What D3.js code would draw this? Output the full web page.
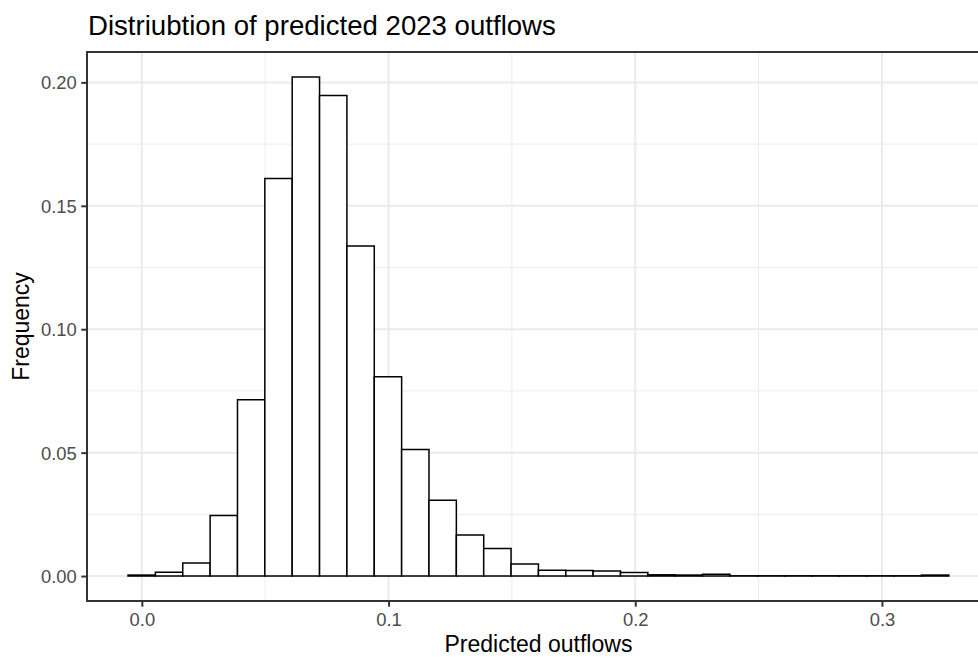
<!DOCTYPE html>
<html>
<head>
<meta charset="utf-8">
<script src="https://cdn.jsdelivr.net/npm/d3@7"></script>
<style>
  html, body { margin: 0; padding: 0; background: #ffffff; }
  svg { display: block; font-family: "Liberation Sans", Arial, Helvetica, sans-serif; }
</style>
</head>
<body>
<svg id="chart" width="978" height="657"></svg>
<script>
// ---- Data ----
const titleText = "Distriubtion of predicted 2023 outflows";
const xTitle = "Predicted outflows";
const yTitle = "Frequency";
const binStart = -0.0056;
const binWidth = 0.01109;
const binFreq = [0.0004, 0.0015, 0.0053, 0.0245, 0.0714, 0.1611, 0.2022, 0.1947, 0.1337, 0.0807,
                 0.0513, 0.0307, 0.0166, 0.0112, 0.0049, 0.0023, 0.0022, 0.0020, 0.0014, 0.0005,
                 0.0004, 0.0007, 0.0001, 0.0001, 0.0001, 0.0001, 0.0001, 0.0001, 0.0001, 0.0004];
const xMajor = [0.0, 0.1, 0.2, 0.3];
const xMajorLabels = ["0.0", "0.1", "0.2", "0.3"];
const xMinor = [0.05, 0.15, 0.25];
const yMajor = [0.00, 0.05, 0.10, 0.15, 0.20];
const yMajorLabels = ["0.00", "0.05", "0.10", "0.15", "0.20"];
const yMinor = [0.025, 0.075, 0.125, 0.175];

// ---- Layout ----
const svg = d3.select("#chart");
const panelLeft = 87, panelTop = 52, panelBottom = 601;
const pxPerUnitX = 2467;
const binEnd = binStart + binWidth * binFreq.length;
const spanX = binEnd - binStart;
const xLo = binStart - 0.05 * spanX, xHi = binEnd + 0.05 * spanX;
const panelRight = panelLeft + (xHi - xLo) * pxPerUnitX;

const x = d3.scaleLinear().domain([xLo, xHi]).range([panelLeft, panelRight]);
const yMax = d3.max(binFreq);
const y = d3.scaleLinear().domain([-0.05 * yMax, 1.05 * yMax]).range([panelBottom, panelTop]);

const bins = binFreq.map((v, i) => ({ x0: binStart + i * binWidth, x1: binStart + (i + 1) * binWidth, v }));

// grid
const grid = svg.append("g");
grid.selectAll(".xminor").data(xMinor).enter().append("line")
  .attr("x1", d => x(d)).attr("x2", d => x(d)).attr("y1", panelTop).attr("y2", panelBottom)
  .attr("stroke", "#EBEBEB").attr("stroke-width", 1);
grid.selectAll(".yminor").data(yMinor).enter().append("line")
  .attr("x1", panelLeft).attr("x2", panelRight).attr("y1", d => y(d)).attr("y2", d => y(d))
  .attr("stroke", "#EBEBEB").attr("stroke-width", 1);
grid.selectAll(".xmajor").data(xMajor).enter().append("line")
  .attr("x1", d => x(d)).attr("x2", d => x(d)).attr("y1", panelTop).attr("y2", panelBottom)
  .attr("stroke", "#EBEBEB").attr("stroke-width", 2);
grid.selectAll(".ymajor").data(yMajor).enter().append("line")
  .attr("x1", panelLeft).attr("x2", panelRight).attr("y1", d => y(d)).attr("y2", d => y(d))
  .attr("stroke", "#EBEBEB").attr("stroke-width", 2);

// bars
svg.append("g").selectAll("path").data(bins).enter().append("path")
  .attr("d", d => {
    const a = x(d.x0), b = x(d.x1), t = y(d.v), z = y(0);
    return `M${a},${z}V${t}H${b}V${z}Z`;
  })
  .attr("fill", "#ffffff").attr("stroke", "#000000").attr("stroke-width", 1.5);

// panel border
svg.append("rect")
  .attr("x", panelLeft).attr("y", panelTop)
  .attr("width", panelRight - panelLeft).attr("height", panelBottom - panelTop)
  .attr("fill", "none").attr("stroke", "#333333").attr("stroke-width", 2);

// axes
const xAxis = d3.axisBottom(x).tickValues(xMajor).tickFormat((d, i) => xMajorLabels[i])
  .tickSize(5.7).tickPadding(4.6);
const gx = svg.append("g").attr("transform", `translate(0,${panelBottom})`).call(xAxis);
gx.select(".domain").remove();
gx.selectAll(".tick line").attr("stroke", "#333333").attr("stroke-width", 2);
gx.selectAll(".tick text").attr("fill", "#4D4D4D").attr("font-size", 18.4)
  .attr("font-family", "Liberation Sans, Arial, sans-serif").attr("dy", "0.78em");

const yAxis = d3.axisLeft(y).tickValues(yMajor).tickFormat((d, i) => yMajorLabels[i])
  .tickSize(5.7).tickPadding(4.6);
const gy = svg.append("g").attr("transform", `translate(${panelLeft},0)`).call(yAxis);
gy.select(".domain").remove();
gy.selectAll(".tick line").attr("stroke", "#333333").attr("stroke-width", 2);
gy.selectAll(".tick text").attr("fill", "#4D4D4D").attr("font-size", 18.4)
  .attr("font-family", "Liberation Sans, Arial, sans-serif").attr("dy", "0.35em");

// titles
svg.append("text").attr("x", panelLeft + 1).attr("y", 35)
  .attr("font-size", 27.6).attr("fill", "#000").text(titleText);
svg.append("text").attr("x", (panelLeft + panelRight) / 2).attr("y", 652)
  .attr("text-anchor", "middle").attr("font-size", 23).attr("fill", "#000").text(xTitle);
svg.append("text")
  .attr("transform", `translate(29,${(panelTop + panelBottom) / 2}) rotate(-90)`)
  .attr("text-anchor", "middle").attr("font-size", 23).attr("fill", "#000").text(yTitle);
</script>
</body>
</html>
